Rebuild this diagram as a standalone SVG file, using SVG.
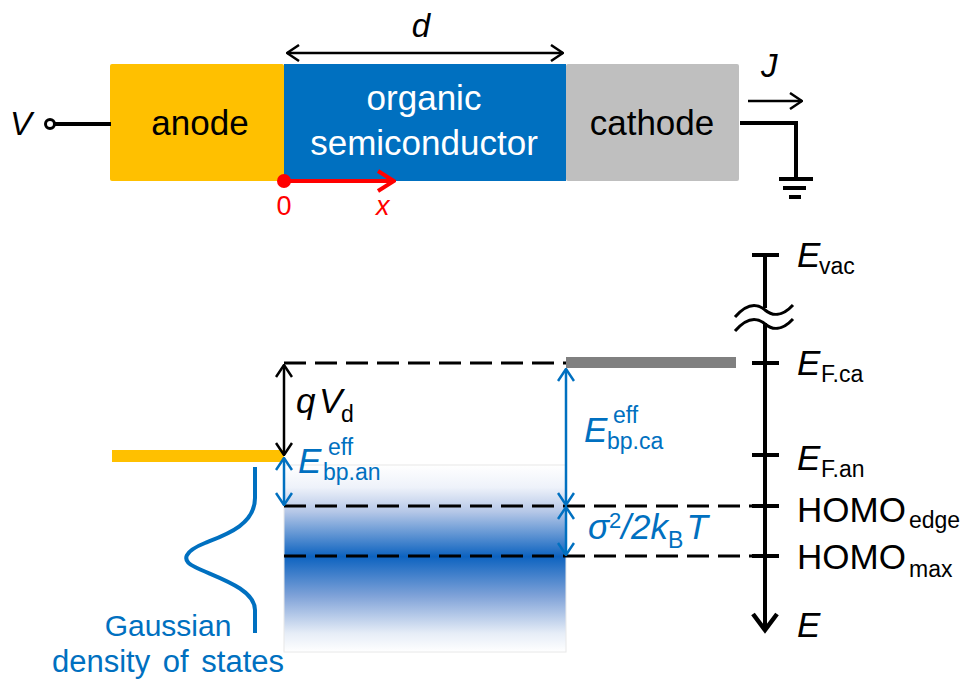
<svg xmlns="http://www.w3.org/2000/svg" width="963" height="679" viewBox="0 0 963 679">
<style>
text{font-family:"Liberation Sans",Arial,sans-serif;}
.big{font-size:35px;}
.lab{font-size:33px;}
.sub{font-size:23px;}
.it{font-style:italic;}
.bk{fill:#000;}
.wh{fill:#fff;}
.bl{fill:#0070C0;}
.rd{fill:#FF0000;}
.dash{stroke:#000;stroke-width:3;stroke-dasharray:22 9;fill:none;}
.tick{stroke:#000;stroke-width:4;fill:none;}
</style>
<defs>
<marker id="ahk" viewBox="0 0 14 18" refX="13" refY="9" markerWidth="14" markerHeight="18" markerUnits="userSpaceOnUse" orient="auto-start-reverse">
<path d="M1,1 L13,9 L1,17" fill="none" stroke="#000" stroke-width="2.5"/>
</marker>
<marker id="ahb" viewBox="0 0 14 18" refX="13" refY="9" markerWidth="14" markerHeight="18" markerUnits="userSpaceOnUse" orient="auto-start-reverse">
<path d="M1,1 L13,9 L1,17" fill="none" stroke="#0070C0" stroke-width="2.5"/>
</marker>
<marker id="ahr" viewBox="0 0 20 24" refX="18" refY="12" markerWidth="20" markerHeight="24" markerUnits="userSpaceOnUse" orient="auto">
<path d="M2,2 L18,12 L2,22" fill="none" stroke="#FF0000" stroke-width="4"/>
</marker>
<linearGradient id="dos" x1="0" y1="0" x2="0" y2="1">
<stop offset="0" stop-color="#FFFFFF"/>
<stop offset="0.12" stop-color="#EEF2FA"/>
<stop offset="0.25" stop-color="#B5C7E7"/>
<stop offset="0.49" stop-color="#0D63C0"/>
<stop offset="0.7" stop-color="#7FA2D8"/>
<stop offset="0.9" stop-color="#E6EDF7"/>
<stop offset="1" stop-color="#FFFFFF"/>
</linearGradient>
</defs>

<!-- Device -->
<g id="anode">
<rect x="110" y="64" width="174" height="117" rx="2" fill="#FFC000"/>
<text x="200" y="135" class="big bk" text-anchor="middle">anode</text>
</g>
<g id="organic">
<rect x="284" y="64" width="282" height="117" fill="#0070C0"/>
<text x="424" y="110" class="big wh" text-anchor="middle">organic</text>
<text x="424" y="155" class="big wh" text-anchor="middle">semiconductor</text>
</g>
<g id="cathode">
<rect x="566" y="64" width="173" height="117" rx="2" fill="#BFBFBF"/>
<text x="652" y="135" class="big bk" text-anchor="middle">cathode</text>
</g>
<g id="voltage">
<text x="10" y="135" class="lab it bk">V</text>
<line x1="55" y1="124" x2="111" y2="124" stroke="#000" stroke-width="4"/>
<circle cx="50" cy="124" r="4.5" fill="#fff" stroke="#000" stroke-width="3"/>
</g>
<g id="ground">
<path d="M740,123 H796 V179" fill="none" stroke="#000" stroke-width="4"/>
<line x1="779" y1="179" x2="813" y2="179" stroke="#000" stroke-width="4"/>
<line x1="783" y1="188" x2="806" y2="188" stroke="#000" stroke-width="4"/>
<line x1="789" y1="197" x2="801" y2="197" stroke="#000" stroke-width="4"/>
</g>
<g id="current">
<text x="761" y="77" class="lab it bk">J</text>
</g>
<g id="thickness">
<text x="421" y="37" class="lab it bk" text-anchor="middle">d</text>
</g>
<g id="xaxis">
<circle cx="284" cy="181" r="7" fill="#FF0000"/>
<text x="284" y="215" font-size="27" class="rd" text-anchor="middle">0</text>
<text x="376" y="215" font-size="27" class="rd it">x</text>
</g>

<!-- Energy diagram -->
<g id="dos-band">
<rect x="284" y="465" width="282" height="187" fill="url(#dos)" stroke="#E8E8E8" stroke-width="1"/>
</g>
<g id="anode-level">
<rect x="112" y="450" width="172" height="12" fill="#FFC000"/>
</g>
<g id="cathode-level">
<rect x="566" y="357" width="170" height="11" fill="#808080"/>
</g>
<g id="gaussian">
<path d="M255,467 V498 C255,525 225,535 205,543 C185,551 180,560 195,567 C215,577 255,588 255,610 V633" fill="none" stroke="#0070C0" stroke-width="4"/>
<text x="168" y="636" font-size="30" class="bl" text-anchor="middle">Gaussian</text>
<text x="168" y="672" font-size="31" word-spacing="4" class="bl" text-anchor="middle">density of states</text>
</g>

<g id="energy-axis">
<path d="M765,255 V308 M765,323 V628" class="tick"/>
<path d="M753,614 L765,630 L777,614" fill="none" stroke="#000" stroke-width="4.5"/>
<path d="M735,317 C748,302 758,304 765,310 C772,316 782,317 793,305" fill="none" stroke="#000" stroke-width="3"/>
<path d="M735,331 C748,316 758,318 765,324 C772,330 782,331 793,319" fill="none" stroke="#000" stroke-width="3"/>
<path d="M752,255 H779 M752,363 H779 M752,455 H779 M752,506 H779 M752,556 H779" class="tick"/>
<text x="797" y="267" class="big it bk">E</text><text x="819" y="274" class="sub bk">vac</text>
<text x="797" y="375" class="big it bk">E</text><text x="821" y="382" class="sub bk">F.ca</text>
<text x="797" y="470" class="big it bk">E</text><text x="821" y="477" class="sub bk">F.an</text>
<text x="797" y="522" class="big bk">HOMO</text><text x="909" y="528" class="sub bk">edge</text>
<text x="797" y="569" class="big bk">HOMO</text><text x="909" y="577" class="sub bk">max</text>
<text x="797" y="637" class="big it bk">E</text>
</g>

<g id="labels">
<text x="296" y="413" class="big it bk">q</text><text x="319" y="413" class="big it bk">V</text><text x="341" y="422" class="sub bk">d</text>
<text x="298" y="473" class="big it bl">E</text><text x="328" y="455" class="sub bl">eff</text><text x="323" y="480" class="sub bl">bp.an</text>
<text x="584" y="442" class="big it bl">E</text><text x="613" y="423" class="sub bl">eff</text><text x="607" y="449" class="sub bl">bp.ca</text>
<text x="588" y="539" class="big it bl">σ<tspan font-size="22" font-style="normal" dy="-11">2</tspan><tspan dy="11">/2k</tspan><tspan class="sub" font-style="normal" dy="9">B</tspan><tspan dy="-9" dx="3">T</tspan></text>
</g>

<g id="connectors">
<line x1="287" y1="53" x2="563" y2="53" stroke="#000" stroke-width="2.5" marker-start="url(#ahk)" marker-end="url(#ahk)"/>
<line x1="284" y1="181" x2="394" y2="181" stroke="#FF0000" stroke-width="4" marker-end="url(#ahr)"/>
<line x1="748" y1="101" x2="802" y2="101" stroke="#000" stroke-width="2.5" marker-end="url(#ahk)"/>
<path d="M284,363 H566" class="dash"/>
<path d="M284,506 H752" class="dash"/>
<path d="M284,556 H752" class="dash"/>
<line x1="284" y1="365" x2="284" y2="455" stroke="#000" stroke-width="2.5" marker-start="url(#ahk)" marker-end="url(#ahk)"/>
<line x1="284" y1="458" x2="284" y2="505" stroke="#0070C0" stroke-width="2.5" marker-start="url(#ahb)" marker-end="url(#ahb)"/>
<line x1="566" y1="369" x2="566" y2="505" stroke="#0070C0" stroke-width="2.5" marker-start="url(#ahb)" marker-end="url(#ahb)"/>
<line x1="566" y1="507" x2="566" y2="555" stroke="#0070C0" stroke-width="2.5" marker-start="url(#ahb)" marker-end="url(#ahb)"/>
</g>
</svg>
